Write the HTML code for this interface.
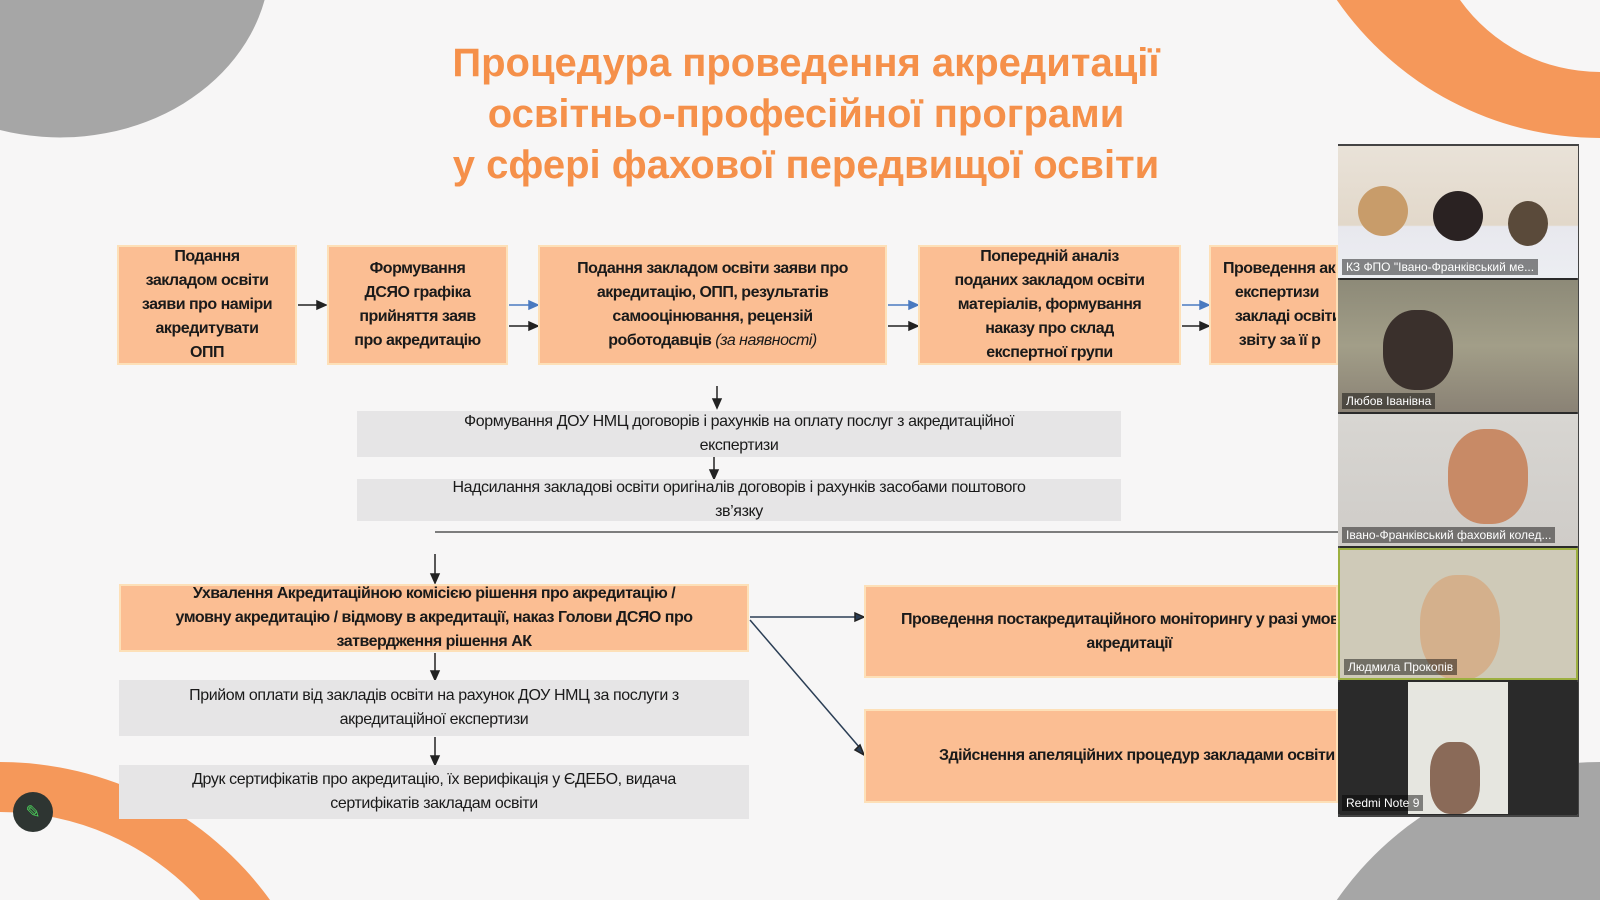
<!DOCTYPE html>
<html style="width:1600px;height:900px;overflow:hidden"><head><meta charset="utf-8"><style>
*{margin:0;padding:0;box-sizing:border-box}
body{width:1600px;height:900px;position:relative;overflow:hidden;background:#f7f6f6;font-family:"Liberation Sans Narrow","Liberation Sans",sans-serif;color:#1a1a1a}
.a{position:absolute}
svg{display:block}
.t{position:absolute;left:300px;width:1012px;text-align:center;color:#f5904a;font-family:"Liberation Sans",sans-serif;font-weight:bold;font-size:40px;line-height:51px;top:38px}
.box{position:absolute;background:#fbbe93;border:2px solid #fde0b8;display:flex;align-items:center;justify-content:center;text-align:center;font-weight:bold;font-size:16px;letter-spacing:-0.5px;line-height:24px;overflow:hidden;white-space:nowrap}
.g{position:absolute;background:#e6e5e6;display:flex;align-items:center;justify-content:center;text-align:center;font-size:16px;letter-spacing:-0.4px;line-height:24px;white-space:nowrap}
.vid{position:absolute;left:1338px;width:240px;overflow:hidden;font-family:"Liberation Sans",sans-serif}
.lab{position:absolute;left:4px;bottom:3px;color:#fff;font-size:12px;background:rgba(0,0,0,.45);padding:1px 4px}
</style></head><body>
<svg class="a" style="left:0;top:0" width="1600" height="900">
<path d="M0 0 H264.6 A210 178 0 0 1 0 130 Z" fill="#a6a6a6"/>
<path d="M1336.8 0 A320 320 0 0 0 1600 138 V72 A172 172 0 0 1 1460 0 Z" fill="#f5985a"/>
<path d="M0 762 A333 333 0 0 1 270 900 H200 A271 271 0 0 0 0 812 Z" fill="#f5985a"/>
<path d="M1336.8 900 A320 320 0 0 1 1600 762 V900 Z" fill="#a6a6a6"/>
<g stroke="#222" stroke-width="1.5" fill="#222">
<line x1="298" y1="305" x2="318" y2="305"/><path d="M326 305 l-9 -4 v8z"/>
<line x1="509" y1="326" x2="530" y2="326"/><path d="M538 326 l-9 -4 v8z"/>
<line x1="888" y1="326" x2="910" y2="326"/><path d="M918 326 l-9 -4 v8z"/>
<line x1="1182" y1="326" x2="1201" y2="326"/><path d="M1209 326 l-9 -4 v8z"/>
<line x1="717" y1="386" x2="717" y2="400"/><path d="M717 408 l-4 -9 h8z"/>
<line x1="714" y1="456" x2="714" y2="471"/><path d="M714 479 l-4 -9 h8z"/>
<line x1="435" y1="532" x2="1338" y2="532" stroke="#555"/>
<line x1="435" y1="554" x2="435" y2="574"/><path d="M435 583 l-4 -9 h8z"/>
<line x1="435" y1="653" x2="435" y2="671"/><path d="M435 680 l-4 -9 h8z"/>
<line x1="435" y1="737" x2="435" y2="756"/><path d="M435 765 l-4 -9 h8z"/>
<line x1="750" y1="617" x2="856" y2="617" stroke="#2b3e55"/><path d="M864 617 l-9 -4 v8z" fill="#2b3e55"/>
<line x1="750" y1="620" x2="860" y2="748" stroke="#2b3e55"/><path d="M864 755 l-9 -5 l5 -5z" fill="#2b3e55"/>
</g>
<g stroke="#4a7ac0" stroke-width="1.5" fill="#4a7ac0">
<line x1="509" y1="305" x2="530" y2="305"/><path d="M538 305 l-9 -4 v8z"/>
<line x1="888" y1="305" x2="910" y2="305"/><path d="M918 305 l-9 -4 v8z"/>
<line x1="1182" y1="305" x2="1201" y2="305"/><path d="M1209 305 l-9 -4 v8z"/>
</g>
</svg>
<div class="t">Процедура проведення акредитації<br>освітньо-професійної програми<br>у сфері фахової передвищої освіти</div>
<div class="box" style="left:117px;top:245px;width:180px;height:120px"><span>Подання<br>закладом освіти<br>заяви про наміри<br>акредитувати<br>ОПП</span></div>
<div class="box" style="left:327px;top:245px;width:181px;height:120px"><span>Формування<br>ДСЯО графіка<br>прийняття заяв<br>про акредитацію</span></div>
<div class="box" style="left:538px;top:245px;width:349px;height:120px"><span>Подання закладом освіти заяви про<br>акредитацію, ОПП, результатів<br>самооцінювання, рецензій<br>роботодавців <i style="font-weight:normal">(за наявності)</i></span></div>
<div class="box" style="left:918px;top:245px;width:263px;height:120px"><span>Попередній аналіз<br>поданих закладом освіти<br>матеріалів, формування<br>наказу про склад<br>експертної групи</span></div>
<div class="box" style="left:1209px;top:245px;width:129px;height:120px;justify-content:flex-start;padding-left:12px;text-align:left"><span>Проведення акредитаційної<br>&nbsp;&nbsp;&nbsp;експертизи<br>&nbsp;&nbsp;&nbsp;закладі освіти<br>&nbsp;&nbsp;&nbsp;&nbsp;звіту за її р</span></div>
<div class="g" style="left:357px;top:411px;width:764px;height:46px"><span>Формування ДОУ НМЦ договорів і рахунків на оплату послуг з акредитаційної<br>експертизи</span></div>
<div class="g" style="left:357px;top:479px;width:764px;height:42px"><span>Надсилання закладові освіти оригіналів договорів і рахунків засобами поштового<br>зв’язку</span></div>
<div class="box" style="left:119px;top:584px;width:630px;height:68px"><span>Ухвалення Акредитаційною комісією рішення про акредитацію /<br>умовну акредитацію / відмову в акредитації, наказ Голови ДСЯО про<br>затвердження рішення АК</span></div>
<div class="g" style="left:119px;top:680px;width:630px;height:56px"><span>Прийом оплати від закладів освіти на рахунок ДОУ НМЦ за послуги з<br>акредитаційної експертизи</span></div>
<div class="g" style="left:119px;top:765px;width:630px;height:54px"><span>Друк сертифікатів про акредитацію, їх верифікація у ЄДЕБО, видача<br>сертифікатів закладам освіти</span></div>
<div class="box" style="left:864px;top:585px;width:474px;height:93px;justify-content:flex-start;padding-left:35px;text-align:left"><span>Проведення постакредитаційного моніторингу у разі умовної<br>&nbsp;&nbsp;&nbsp;&nbsp;&nbsp;&nbsp;&nbsp;&nbsp;&nbsp;&nbsp;&nbsp;&nbsp;&nbsp;&nbsp;&nbsp;&nbsp;&nbsp;&nbsp;&nbsp;&nbsp;&nbsp;&nbsp;&nbsp;&nbsp;&nbsp;&nbsp;&nbsp;&nbsp;&nbsp;&nbsp;&nbsp;&nbsp;&nbsp;&nbsp;&nbsp;&nbsp;&nbsp;&nbsp;&nbsp;&nbsp;&nbsp;&nbsp;&nbsp;&nbsp;&nbsp;&nbsp;&nbsp;акредитації</span></div>
<div class="box" style="left:864px;top:709px;width:474px;height:94px;justify-content:flex-start;padding-left:73px;text-align:left"><span>Здійснення апеляційних процедур закладами освіти</span></div>
<div class="a" style="left:1338px;top:144px;width:241px;height:673px;background:#2a2a2a;border:2px solid #444"></div>
<div class="vid" style="top:146px;height:132px;background:linear-gradient(#e9e2d8 0,#e2d8ca 60%,#e8e8ee 61%,#eceef2)"><div class="a" style="left:20px;top:40px;width:50px;height:50px;border-radius:50%;background:#c89c6a"></div><div class="a" style="left:95px;top:45px;width:50px;height:50px;border-radius:50%;background:#2a2222"></div><div class="a" style="left:170px;top:55px;width:40px;height:45px;border-radius:50%;background:#5a4a3a"></div><div class="lab">КЗ ФПО "Івано-Франківський ме...</div></div>
<div class="vid" style="top:280px;height:132px;background:linear-gradient(#8d8a78,#a29e88 50%,#8a8275)"><div class="a" style="left:45px;top:30px;width:70px;height:80px;border-radius:45%;background:#3a302c"></div><div class="lab">Любов Іванівна</div></div>
<div class="vid" style="top:414px;height:132px;background:linear-gradient(#d8d6d2,#cfccc8)"><div class="a" style="left:110px;top:15px;width:80px;height:95px;border-radius:45%;background:#c88a66"></div><div class="lab">Івано-Франківський фаховий колед...</div></div>
<div class="vid" style="top:548px;height:132px;background:#cfcab8;border:2px solid #9db040"><div class="a" style="left:80px;top:25px;width:80px;height:105px;border-radius:45%;background:#d4b08c"></div><div class="lab">Людмила Прокопів</div></div>
<div class="vid" style="top:682px;height:132px;background:#2a2a2a"><div class="a" style="left:70px;top:0;width:100px;height:132px;background:#e6e6e0"></div><div class="a" style="left:92px;top:60px;width:50px;height:72px;border-radius:40%;background:#8a6a58"></div><div class="lab">Redmi Note 9</div></div>
<div class="a" style="left:13px;top:792px;width:40px;height:40px;border-radius:50%;background:#2e3532;color:#4bd05a;font-size:18px;text-align:center;line-height:40px">✎</div>
</body></html>
